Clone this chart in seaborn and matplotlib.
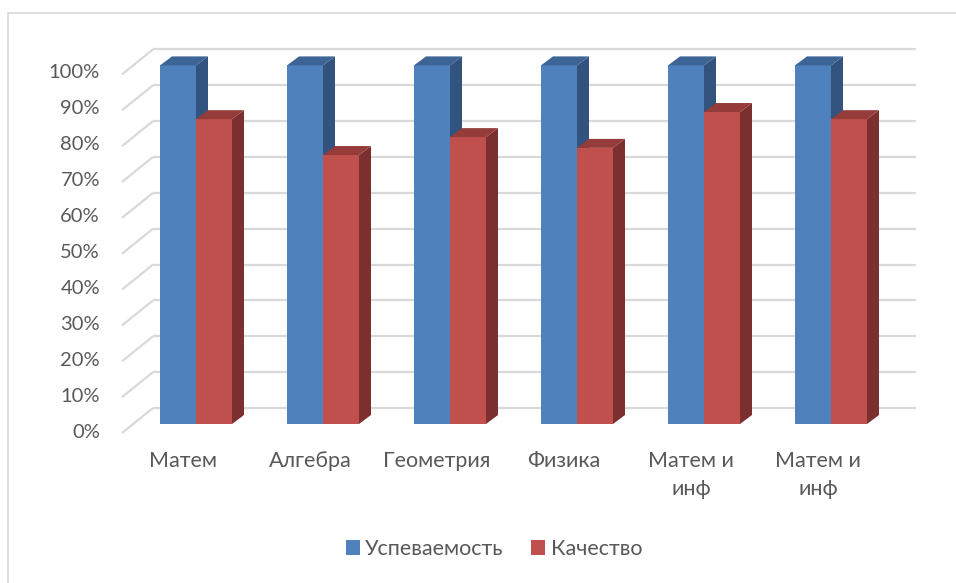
import matplotlib
matplotlib.use("Agg")
import matplotlib.pyplot as plt
import seaborn as sns
import pandas as pd
from matplotlib.patches import Polygon, Rectangle, Patch

# ---- data ----
categories = ["Матем", "Алгебра", "Геометрия", "Физика", "Матем и\nинф", "Матем и\nинф"]
uspevaemost = [1.00, 1.00, 1.00, 1.00, 1.00, 1.00]
kachestvo = [0.85, 0.75, 0.80, 0.77, 0.87, 0.85]
series_names = ["Успеваемость", "Качество"]
y_ticks = [0.0, 0.1, 0.2, 0.3, 0.4, 0.5, 0.6, 0.7, 0.8, 0.9, 1.0]
y_tick_labels = [f"{int(round(t * 100))}%" for t in y_ticks]

# ---- style ----
sns.set_theme(style="white")
plt.rcParams["font.family"] = ["Lato", "DejaVu Sans"]
TEXT = "#595959"
GRID = "#d9d9d9"
front_cols = ["#4F81BD", "#C0504D"]
top_cols = ["#3C6494", "#953C3A"]
side_cols = ["#31537D", "#7B2F2E"]

W, H = 956, 583
fig = plt.figure(figsize=(W / 100, H / 100), dpi=100)
ax = fig.add_axes([0, 0, 1, 1])

# pixel layout of the bar plane
PXX = 127.0      # px per category
PXY = 358.6      # px per 100%
X0 = 196.0       # px of first group centre
Y0 = 424.0       # px of 0% (from top)

def dx(px):
    return px / PXX

def dy(px):
    return px / PXY

df = pd.DataFrame({
    "idx": list(range(len(categories))) * 2,
    "value": uspevaemost + kachestvo,
    "series": [series_names[0]] * len(categories) + [series_names[1]] * len(categories),
})

sns.barplot(data=df, x="idx", y="value", hue="series", hue_order=series_names,
            palette=front_cols, width=0.567, ax=ax, legend=False,
            linewidth=0, saturation=1, errorbar=None)
ax.set_xlim(-X0 / PXX, (W - X0) / PXX)
ax.set_ylim((Y0 - H) / PXY, Y0 / PXY)
ax.axis("off")

# ---- back wall gridlines and side diagonals ----
front_left = dx(122 - X0)
back_left = dx(153 - X0)
back_right = dx(916 - X0)
front_off = -dy(9)
back_off = dy(16)
for t in y_ticks:
    ax.plot([back_left, back_right], [t + back_off, t + back_off], color=GRID, lw=1.6,
            zorder=1, solid_capstyle="butt")
    ax.plot([front_left, back_left], [t + front_off, t + back_off], color=GRID, lw=1.6,
            zorder=1, solid_capstyle="butt")

# y tick labels
for t, lab in zip(y_ticks, y_tick_labels):
    ax.text(dx(100 - X0), t * 1.0035 + front_off + dy(1), lab, ha="right", va="center",
            fontsize=14.5, color=TEXT)

# ---- 3D faces for the bars ----
bdx, bdy = dx(12), dy(9)
bars = []
for s_i, cont in enumerate(ax.containers):
    for p in cont.patches:
        bars.append((p.get_x(), s_i, p))
bars.sort(key=lambda b: b[0])
z = 3.0
for x0, s_i, p in bars:
    w = p.get_width()
    h = p.get_height()
    x1 = x0 + w
    p.set_zorder(z)
    side = Polygon([(x1, 0), (x1 + bdx, bdy), (x1 + bdx, h + bdy), (x1, h)], closed=True,
                   facecolor=side_cols[s_i], edgecolor="none", zorder=z + 0.01)
    top = Polygon([(x0, h), (x1, h), (x1 + bdx, h + bdy), (x0 + bdx, h + bdy)], closed=True,
                  facecolor=top_cols[s_i], edgecolor="none", zorder=z + 0.02)
    ax.add_patch(side)
    ax.add_patch(top)
    z += 0.1

# ---- category labels ----
for i, lab in enumerate(categories):
    ax.text(i - dx(13), dy(Y0 - 451), lab, ha="center", va="top", fontsize=15.5,
            color=TEXT, linespacing=1.5)

# ---- legend ----
handles = [Patch(facecolor=c, edgecolor="none") for c in front_cols]
fig.legend(handles, series_names, loc="center", bbox_to_anchor=(494 / W, 1 - 549 / H),
           ncol=2, frameon=False, fontsize=15.5, labelcolor=TEXT, handlelength=0.65,
           handleheight=0.7, handletextpad=0.25, columnspacing=1.3)

# ---- chart border ----
fig.patches.append(Rectangle((8 / W, -0.05), 1.1, 1.05 - 13 / H, transform=fig.transFigure,
                             fill=False, edgecolor=GRID, lw=1.2, zorder=0))

fig.savefig("out.png", dpi=100, facecolor="white")
